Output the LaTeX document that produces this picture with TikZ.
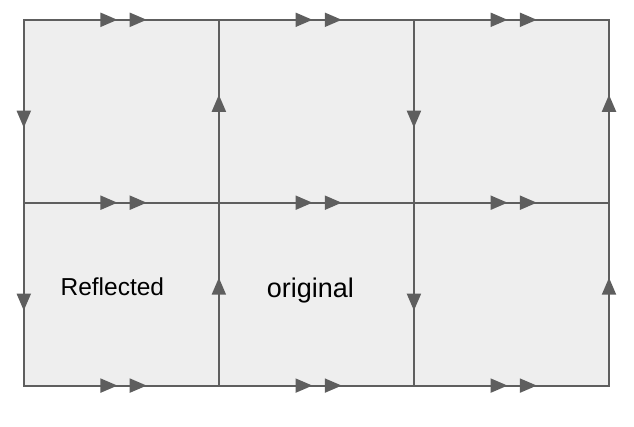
\documentclass[tikz,border=0pt]{standalone}
\usepackage{fontspec}
\setmainfont{Liberation Sans}
\usetikzlibrary{arrows.meta,decorations.markings,positioning}
\definecolor{fundo}{HTML}{EEEEEE}
\definecolor{traco}{HTML}{5E5E5E}

\begin{document}
\begin{tikzpicture}[
        x=1pt, y=1pt,
        node distance=0pt,
        ponta/.tip={Triangle[length=17pt, width=14pt]},
        celula/.style={
            rectangle,
            fill=fundo,
            inner sep=0pt,
            minimum width=194.67pt,
            minimum height=182.5pt
        },
        borda/.style={draw=traco, line width=2pt, line cap=rect},
        dupla/.style={borda, postaction={decorate}, decoration={markings,
            mark=at position 0.48 with {\arrow{ponta}},
            mark=at position 0.63 with {\arrow{ponta}}}},
        simples/.style={borda, postaction={decorate}, decoration={markings,
            mark=at position 0.59 with {\arrow{ponta}}}},
        rotulo/.style={inner sep=0pt, anchor=base}
    ]
    \useasboundingbox (0,0) rectangle (634,426);

    % celulas
    \node[celula] (c11) at (121.33,314.75) {};
    \node[celula, right=of c11] (c12) {};
    \node[celula, right=of c12] (c13) {};
    \node[celula, below=of c11] (c21) {};
    \node[celula, right=of c21] (c22) {};
    \node[celula, right=of c22] (c23) {};

    % bordas horizontais
    \draw[dupla] (c11.north west) -- (c11.north east);
    \draw[dupla] (c12.north west) -- (c12.north east);
    \draw[dupla] (c13.north west) -- (c13.north east);
    \draw[dupla] (c21.north west) -- (c21.north east);
    \draw[dupla] (c22.north west) -- (c22.north east);
    \draw[dupla] (c23.north west) -- (c23.north east);
    \draw[dupla] (c21.south west) -- (c21.south east);
    \draw[dupla] (c22.south west) -- (c22.south east);
    \draw[dupla] (c23.south west) -- (c23.south east);

    % bordas verticais
    \draw[simples] (c11.north west) -- (c11.south west);
    \draw[simples] (c21.north west) -- (c21.south west);
    \draw[simples] (c11.south east) -- (c11.north east);
    \draw[simples] (c21.south east) -- (c21.north east);
    \draw[simples] (c12.north east) -- (c12.south east);
    \draw[simples] (c22.north east) -- (c22.south east);
    \draw[simples] (c13.south east) -- (c13.north east);
    \draw[simples] (c23.south east) -- (c23.north east);

    % rotulos
    \node[rotulo, font=\fontsize{24.5}{29}\selectfont] (refletida)
        at ([xshift=-9pt, yshift=-1.25pt]c21.center) {Reflected};
    \node[rotulo, font=\fontsize{27}{32}\selectfont] (original)
        at ([xshift=-6pt, yshift=-3.25pt]c22.center) {original};

\end{tikzpicture}
\end{document}
